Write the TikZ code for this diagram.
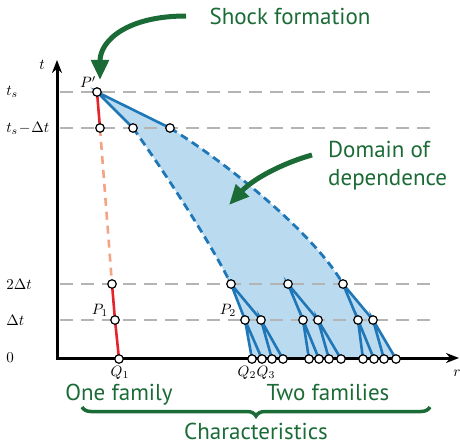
\documentclass[tikz,border=0pt]{standalone}
\usepackage{fontspec}
\newfontfamily\greenfont{PT Sans}
\usetikzlibrary{arrows.meta}
\usetikzlibrary{decorations.pathreplacing}
\definecolor{darkgreen}{HTML}{1B6B36}
\definecolor{charred}{HTML}{E5232B}
\definecolor{charsalmon}{HTML}{F4A384}
\definecolor{charblue}{HTML}{1F77B7}
\definecolor{domainblue}{HTML}{BADAF0}
\definecolor{guidegray}{HTML}{B4B4B4}

\begin{document}
\begin{tikzpicture}[x=1pt,y=-1pt,
    dot/.style={circle,draw=black,fill=white,line width=1.2pt,inner sep=0pt,minimum size=8.5pt},
    lbl/.style={scale=1.5,inner sep=0pt},
    guide/.style={guidegray,line width=1.8pt,dash pattern=on 13pt off 8pt},
    axis/.style={line width=3pt,{Stealth[length=13pt,width=10pt]}-{Stealth[length=13pt,width=10pt]}},
    redchar/.style={charred,line width=2.6pt},
    fadechar/.style={charsalmon,line width=2.6pt,dash pattern=on 8pt off 6pt},
    bluechar/.style={charblue,line width=2.6pt},
    edgechar/.style={charblue,line width=2.8pt,dash pattern=on 8pt off 5pt},
    note/.style={darkgreen,font=\greenfont\fontsize{23}{28}\selectfont,inner sep=0pt},
    bigarrow/.style={darkgreen,line width=5pt,-{Triangle[length=20pt,width=17pt]}}]
        \useasboundingbox (0,0) rectangle (460,444);
        % axes corner and ends
        \coordinate (O) at (57,358);
        \coordinate (tend) at (57,60);
        \coordinate (rend) at (459,358);
        % one family
        \coordinate (Pp) at (97,92);
        \coordinate (A) at (100,128);
        \coordinate (B) at (112,284);
        \coordinate (P1) at (115,320);
        \coordinate (Q1) at (119,359);
        \coordinate (C1) at (133,128);
        \coordinate (C2) at (170,128);
        % two families
        \foreach \g/\T/\L/\R/\a/\b/\c/\d in {%
          1/231/245/261/252/262/272/283,
          2/288/303/318/309/319/329/341,
          3/343/358/373/363/374/384/396} {
            \coordinate (T\g) at (\T,284);
            \coordinate (L\g) at (\L,320);
            \coordinate (R\g) at (\R,320);
            \coordinate (b\g1) at (\a,359);
            \coordinate (b\g2) at (\b,359);
            \coordinate (b\g3) at (\c,359);
            \coordinate (b\g4) at (\d,359);
        }
        \fill[domainblue] (Pp) -- (C1) .. controls (170,180) and (211,244) .. (T1)
          -- (L1) -- (b11) -- (b34) -- (R3) -- (T3)
          .. controls (315,235) and (230,165) .. (C2) -- cycle;
        \foreach \y in {92,128,284,320} {
          \draw[guide] (60,\y) -- (432,\y);
        }
        \draw[axis,line join=miter] (tend) -- (O) -- (rend);
        \draw[redchar] (Pp) -- (A);
        \draw[fadechar] (A) -- (B);
        \draw[redchar] (B) -- (P1) -- (Q1);
        \draw[bluechar] (C1) -- (Pp) -- (C2);
        \draw[edgechar] (C1) .. controls (170,180) and (211,244) .. (T1);
        \draw[edgechar] (C2) .. controls (230,165) and (315,235) .. (T3);
        \foreach \g in {1,2,3} {
          \draw[bluechar] (L\g) -- (T\g) -- (R\g);
          \draw[bluechar] (b\g1) -- (L\g) -- (b\g2);
          \draw[bluechar] (b\g3) -- (R\g) -- (b\g4);
        }
        \foreach \p in {Pp,A,B,P1,Q1,C1,C2,T1,L1,R1,b11,b12,b13,b14,
          T2,L2,R2,b21,b22,b23,b24,T3,L3,R3,b31,b32,b33,b34} {
            \node[dot] (d\p) at (\p) {};
        }
        % axis labels
        \node[lbl] (tlbl) at (42,65) {$t$};
        \node[lbl] (rlbl) at (457,373) {$r$};
        \node[lbl,anchor=west] (ts) at (6,92) {$t_s$};
        \node[lbl,anchor=west] (tsdt) at (6,128) {$t_s\!-\!\Delta t$};
        \node[lbl,anchor=west] (twodt) at (6,284) {$2\Delta t$};
        \node[lbl,anchor=west] (dt) at (6,320) {$\Delta t$};
        \node[lbl,anchor=west] (zero) at (6,358) {$0$};
        \node[lbl] (Pplbl) at (88,82) {$P'$};
        \node[lbl] (P1lbl) at (100,310) {$P_1$};
        \node[lbl] (P2lbl) at (228,310) {$P_2$};
        \node[lbl] (Q1lbl) at (120,373) {$Q_1$};
        \node[lbl] (Q2lbl) at (247,373) {$Q_2$};
        \node[lbl] (Q3lbl) at (266,373) {$Q_3$};
        % green notes
        \node[note,anchor=base] (shock) at (290,25) {Shock formation};
        \node[note,anchor=base west] (domain) at (328,157) {Domain of};
        \node[note,anchor=base west] (depend) at (328,185) {dependence};
        \node[note,anchor=base] (one) at (119,400) {One family};
        \node[note,anchor=base] (two) at (328,400) {Two families};
        \node[note,anchor=base] (chars) at (256,439) {Characteristics};
        \coordinate (shockstart) at (186,16);
        \coordinate (shocktip) at (100,80);
        \coordinate (domstart) at (312,155);
        \coordinate (domtip) at (229,205);
        \draw[bigarrow] (shockstart) .. controls (128,16) and (100,40) .. (shocktip);
        \draw[bigarrow] (domstart) .. controls (280,164) and (252,180) .. (domtip);
        \draw[darkgreen,line width=3.5pt,decorate,decoration={brace,amplitude=9pt}]
          (430,407) -- (82,407);
\end{tikzpicture}
\end{document}
